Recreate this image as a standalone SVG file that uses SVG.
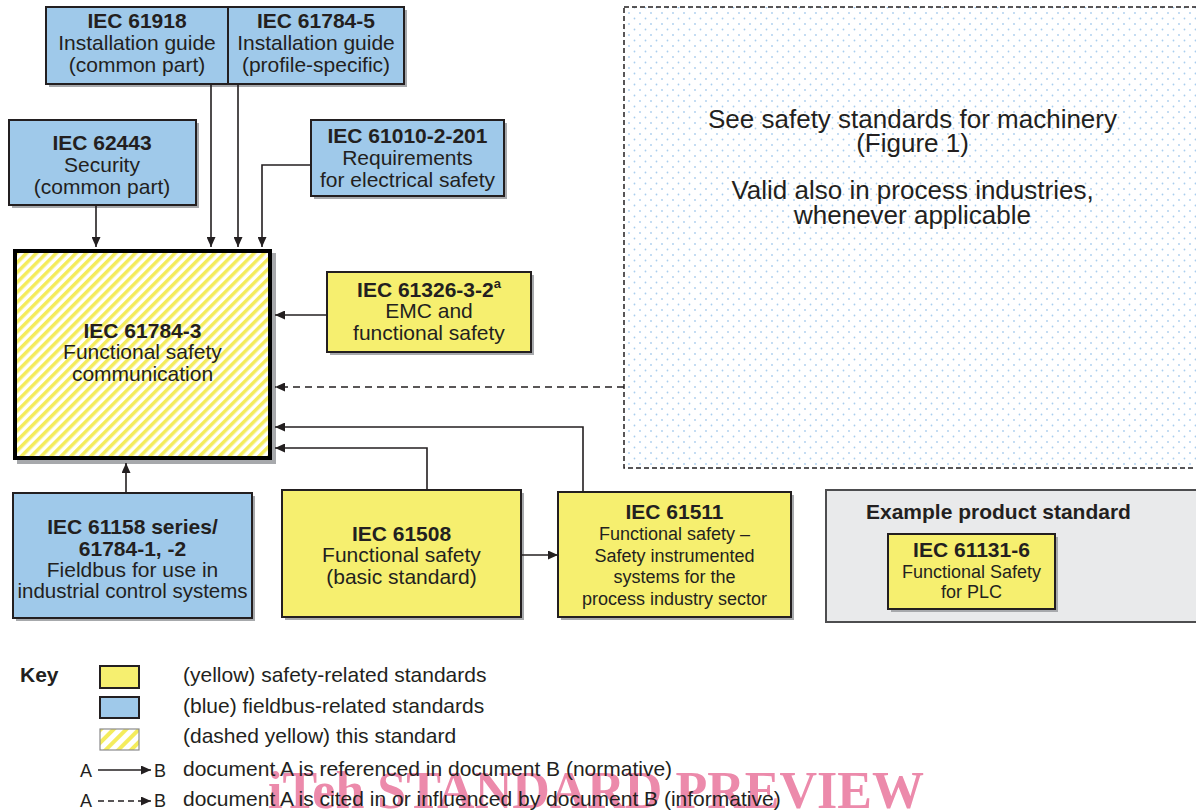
<svg xmlns="http://www.w3.org/2000/svg" width="1196" height="811" viewBox="0 0 1196 811">
<style>
text{font-family:"Liberation Sans",Arial,Helvetica,sans-serif;fill:#231f20;}
.t{font-size:21px;text-anchor:middle}
.b{font-weight:bold}
.s{font-size:18px;text-anchor:middle}
.k{font-size:21px}
.m{font-size:26px;text-anchor:middle}
.blue{fill:#9fc9ea;stroke:#231f20;stroke-width:2}
.yel{fill:#f6ef6f;stroke:#231f20;stroke-width:2}
.sh{fill:#a7a9ac}
.ln{fill:none;stroke:#231f20;stroke-width:1.6}
.dash{stroke-dasharray:7 5}
</style>
<defs>
<marker id="ah" viewBox="0 0 10 9" refX="10" refY="4.5" markerWidth="10" markerHeight="9" markerUnits="userSpaceOnUse" orient="auto"><path d="M0,0 L10,4.5 L0,9 z" fill="#231f20"/></marker>
<pattern id="hatch" patternUnits="userSpaceOnUse" width="7" height="7" patternTransform="rotate(45)"><rect width="7" height="7" fill="#ffffff"/><rect width="3.5" height="7" fill="#f4ec5c"/></pattern>
<pattern id="hatchk" patternUnits="userSpaceOnUse" width="9" height="9" patternTransform="rotate(45)"><rect width="9" height="9" fill="#ffffff"/><rect width="4" height="9" fill="#f4ec5c"/></pattern>
<pattern id="dots" patternUnits="userSpaceOnUse" width="11" height="11"><circle cx="2" cy="2" r="0.9" fill="#a9cdee"/><circle cx="7.5" cy="7.5" r="0.9" fill="#a9cdee"/></pattern>
</defs>
<rect width="1196" height="811" fill="#ffffff"/>

<g id="machinery">
<rect x="624" y="7" width="590" height="461" fill="url(#dots)" stroke="#231f20" stroke-width="1.5" stroke-dasharray="5 3"/>
<text class="m" x="912.5" y="128">See safety standards for machinery</text>
<text class="m" x="912.5" y="152">(Figure 1)</text>
<text class="m" x="912.5" y="199">Valid also in process industries,</text>
<text class="m" x="912.5" y="224">whenever applicable</text>
</g>

<g id="iec61918">
<rect class="sh" x="49" y="10" width="182" height="77"/>
<rect class="blue" x="46" y="7" width="182" height="77"/>
<text class="t b" x="137" y="28">IEC 61918</text>
<text class="t" x="137" y="50">Installation guide</text>
<text class="t" x="137" y="72">(common part)</text>
</g>

<g id="iec61784-5">
<rect class="sh" x="231" y="10" width="176" height="77"/>
<rect class="blue" x="228" y="7" width="176" height="77"/>
<text class="t b" x="316" y="28">IEC 61784-5</text>
<text class="t" x="316" y="50">Installation guide</text>
<text class="t" x="316" y="72">(profile-specific)</text>
</g>

<g id="iec62443">
<rect class="sh" x="12" y="123" width="187" height="85"/>
<rect class="blue" x="9" y="120" width="187" height="85"/>
<text class="t b" x="102" y="150">IEC 62443</text>
<text class="t" x="102" y="172">Security</text>
<text class="t" x="102" y="194">(common part)</text>
</g>

<g id="iec61010">
<rect class="sh" x="314" y="123" width="193" height="76"/>
<rect class="blue" x="311" y="120" width="193" height="76"/>
<text class="t b" x="407.5" y="143">IEC 61010-2-201</text>
<text class="t" x="407.5" y="165">Requirements</text>
<text class="t" x="407.5" y="187">for electrical safety</text>
</g>

<g id="iec61326">
<rect class="sh" x="330" y="275" width="204" height="80"/>
<rect class="yel" x="327" y="272" width="204" height="80"/>
<text class="t b" x="429" y="297">IEC 61326-3-2<tspan font-size="13" dy="-9">a</tspan></text>
<text class="t" x="429" y="318">EMC and</text>
<text class="t" x="429" y="340">functional safety</text>
</g>

<g id="iec61784-3">
<rect class="sh" x="17" y="253" width="259" height="211"/>
<rect x="15" y="251" width="255" height="207" fill="url(#hatch)" stroke="#000000" stroke-width="4"/>
<text class="t b" x="142.5" y="338">IEC 61784-3</text>
<text class="t" x="142.5" y="359">Functional safety</text>
<text class="t" x="142.5" y="381">communication</text>
</g>

<g id="iec61158">
<rect class="sh" x="16" y="496" width="239" height="125"/>
<rect class="blue" x="13" y="493" width="239" height="125"/>
<text class="t b" x="132.5" y="534">IEC 61158 series/</text>
<text class="t b" x="132.5" y="556">61784-1, -2</text>
<text class="t" x="132.5" y="577">Fieldbus for use in</text>
<text class="t" x="132.5" y="598" style="font-size:20.5px">industrial control systems</text>
</g>

<g id="iec61508">
<rect class="sh" x="285" y="493" width="239" height="127"/>
<rect class="yel" x="282" y="490" width="239" height="127"/>
<text class="t b" x="401.5" y="541">IEC 61508</text>
<text class="t" x="401.5" y="562">Functional safety</text>
<text class="t" x="401.5" y="584">(basic standard)</text>
</g>

<g id="iec61511">
<rect class="sh" x="561" y="495" width="233" height="125"/>
<rect class="yel" x="558" y="492" width="233" height="125"/>
<text class="t b" x="674.5" y="519">IEC 61511</text>
<text class="s" x="674.5" y="540">Functional safety –</text>
<text class="s" x="674.5" y="562">Safety instrumented</text>
<text class="s" x="674.5" y="583">systems for the</text>
<text class="s" x="674.5" y="605">process industry sector</text>
</g>

<g id="product">
<rect x="826" y="490" width="390" height="132" fill="#e9eaeb" stroke="#4d4d4f" stroke-width="2"/>
<text class="k b" x="866" y="519">Example product standard</text>
</g>

<g id="iec61131-6">
<rect class="sh" x="891" y="537" width="167" height="75"/>
<rect class="yel" x="888" y="534" width="167" height="75"/>
<text class="t b" x="971.5" y="557">IEC 61131-6</text>
<text class="s" x="971.5" y="578">Functional Safety</text>
<text class="s" x="971.5" y="598">for PLC</text>
</g>

<g id="connectors">
<path class="ln" d="M96,205 V247" marker-end="url(#ah)"/>
<path class="ln" d="M211,84 V247" marker-end="url(#ah)"/>
<path class="ln" d="M238,84 V247" marker-end="url(#ah)"/>
<path class="ln" d="M311,165 H262 V247" marker-end="url(#ah)"/>
<path class="ln" d="M327,315 H275" marker-end="url(#ah)"/>
<path class="ln dash" d="M624,387 H275" marker-end="url(#ah)"/>
<path class="ln" d="M583,492 V427 H275" marker-end="url(#ah)"/>
<path class="ln" d="M427,490 V448 H275" marker-end="url(#ah)"/>
<path class="ln" d="M126,493 V463" marker-end="url(#ah)"/>
<path class="ln" d="M521,555 H558" marker-end="url(#ah)"/>
</g>

<text x="268" y="808" style="font-family:'Liberation Serif','Times New Roman',serif;font-weight:bold;font-size:52px;fill:#ec8aab">iTeh STANDARD PREVIEW</text>

<g id="key">
<text class="k b" x="20" y="682">Key</text>
<rect x="100" y="666" width="39" height="22" fill="#f6ef6f" stroke="#231f20" stroke-width="2"/>
<rect x="100" y="697" width="39" height="21" fill="#9fc9ea" stroke="#231f20" stroke-width="2"/>
<rect x="100" y="729" width="39" height="21" fill="url(#hatchk)" stroke="#8a8a8c" stroke-width="1.2"/>
<text class="k" x="183" y="682">(yellow) safety-related standards</text>
<text class="k" x="183" y="713">(blue) fieldbus-related standards</text>
<text class="k" x="183" y="743">(dashed yellow) this standard</text>
<text class="k" x="183" y="776">document A is referenced in document B (normative)</text>
<text class="k" x="183" y="806">document A is cited in or influenced by document B (informative)</text>
<text x="80" y="777" style="font-size:18px">A</text>
<text x="154" y="777" style="font-size:18px">B</text>
<text x="80" y="807" style="font-size:18px">A</text>
<text x="154" y="807" style="font-size:18px">B</text>
<path class="ln" d="M98,770 H151" marker-end="url(#ah)"/>
<path class="ln" d="M98,801 H151" stroke-dasharray="6 4" marker-end="url(#ah)"/>
</g>
</svg>
